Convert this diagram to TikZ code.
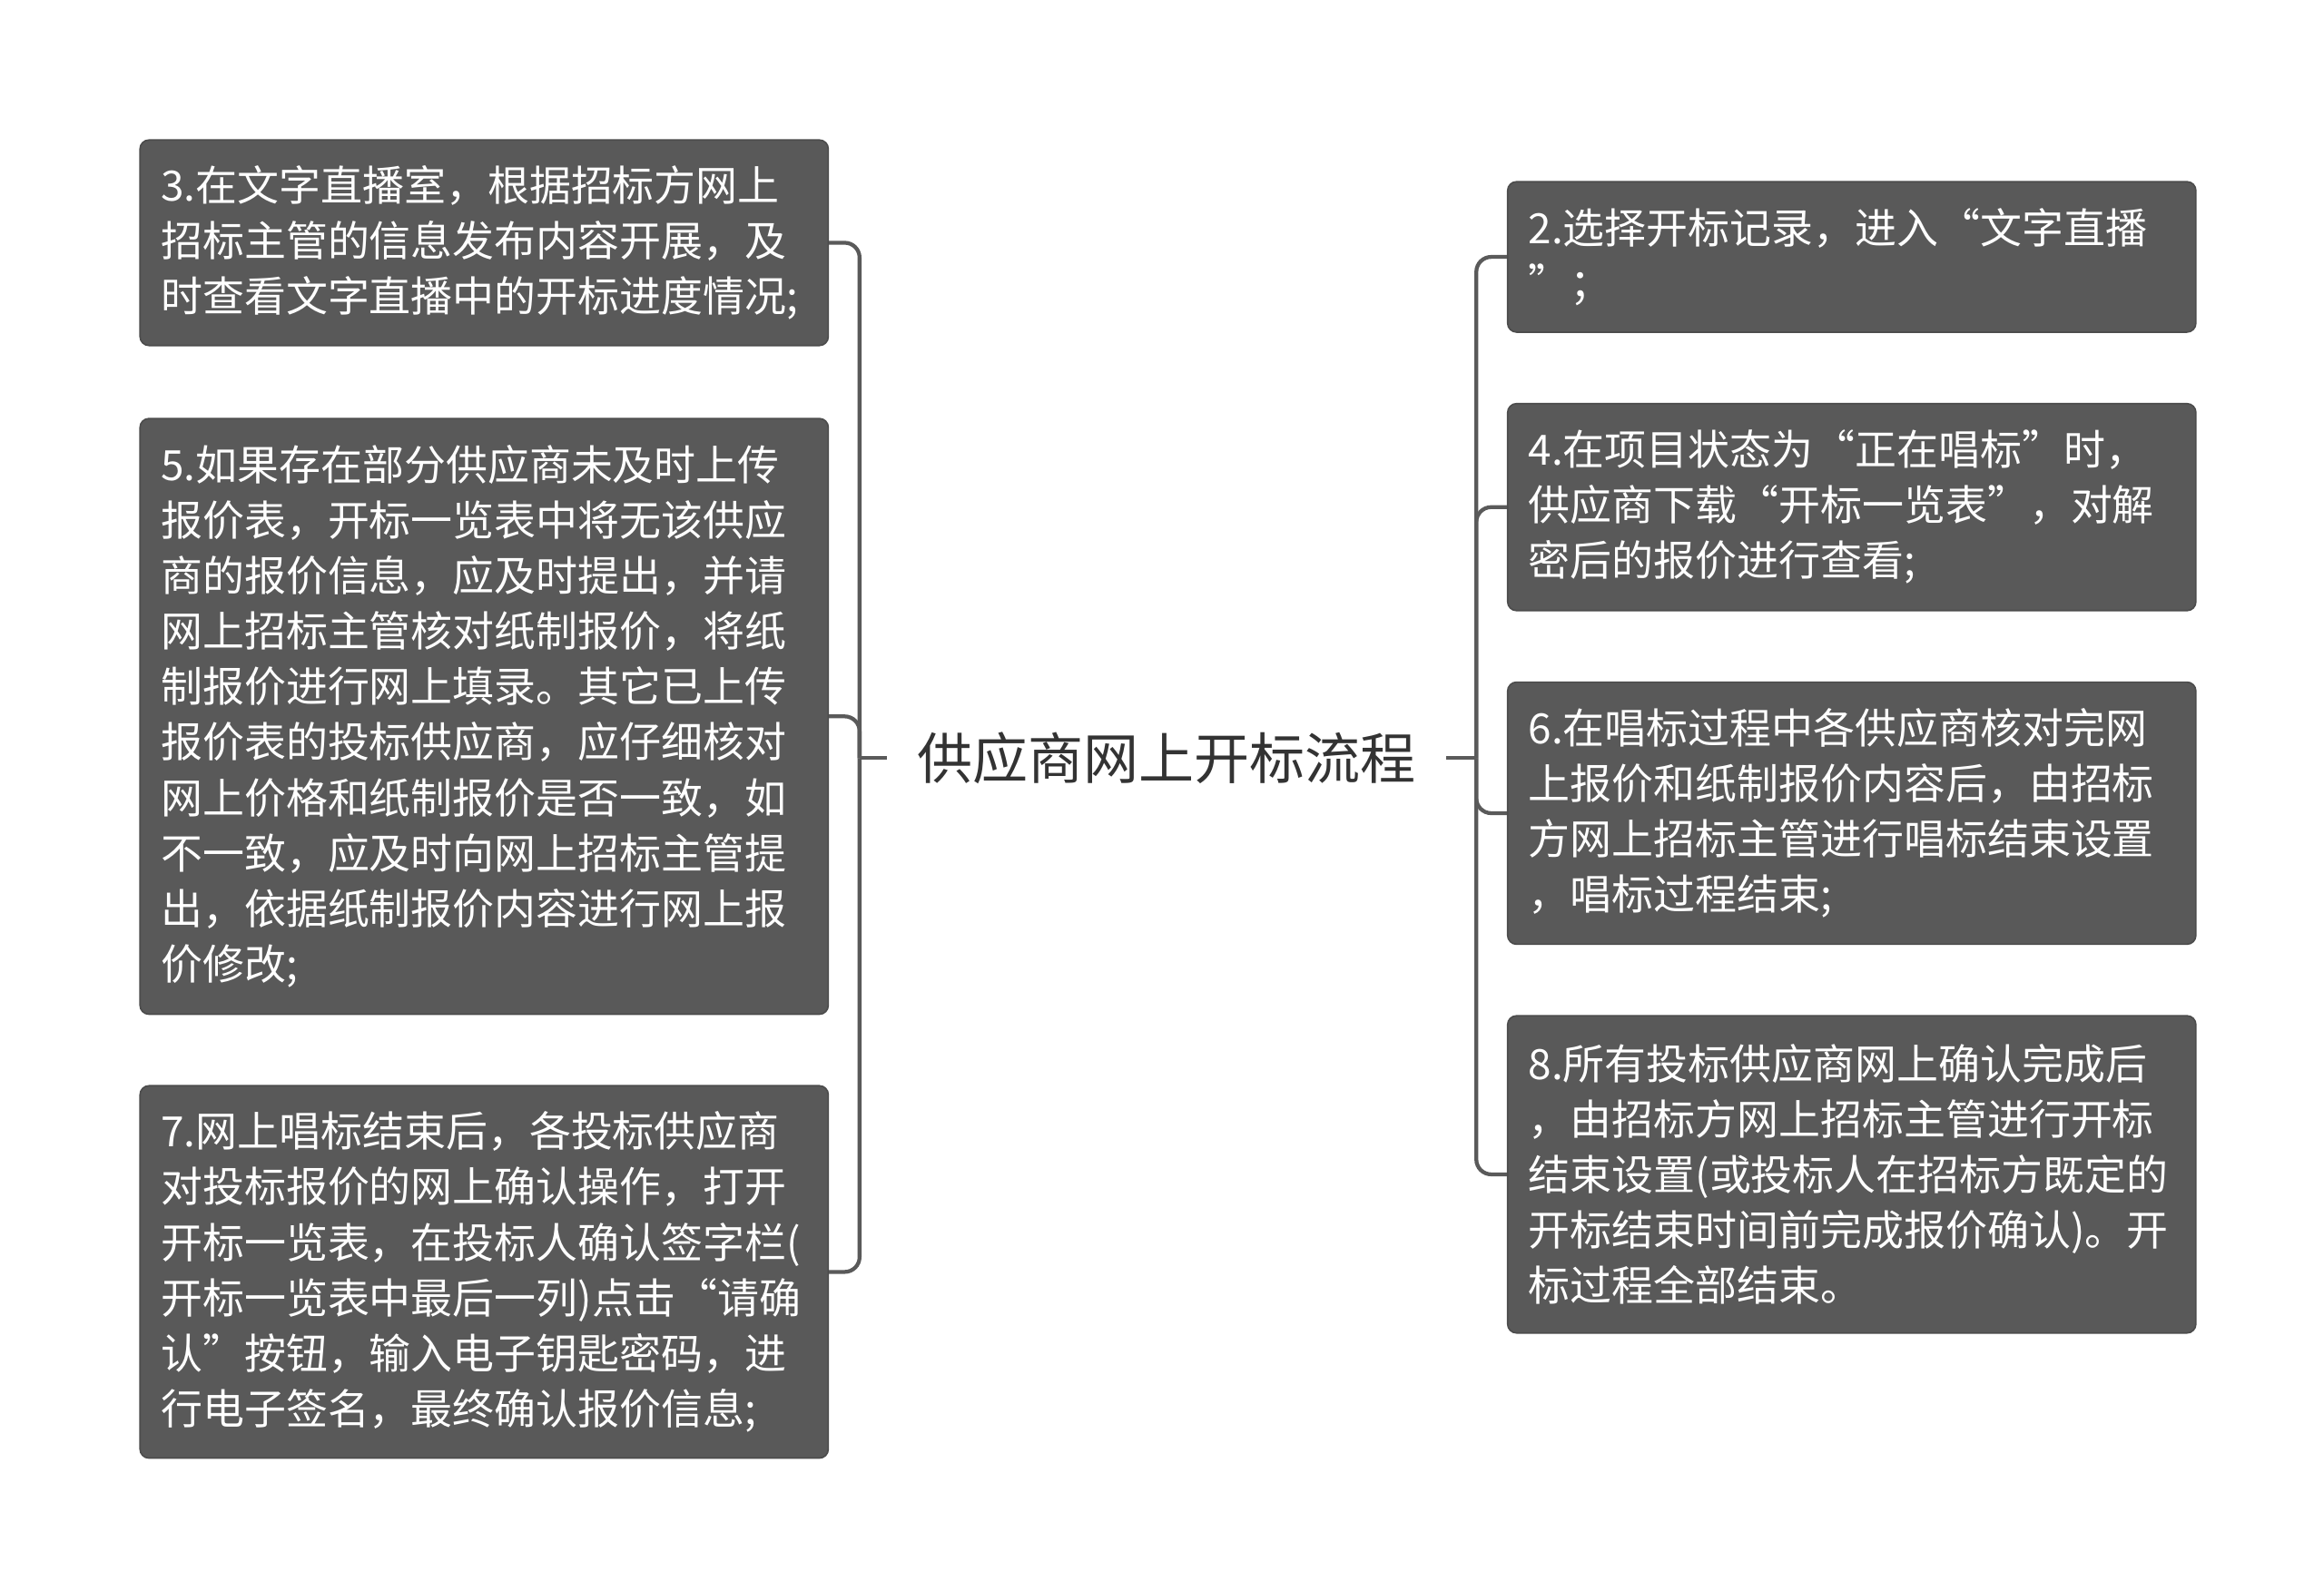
\documentclass[tikz,border=0pt]{standalone}
\usepackage{fontspec}
\setmainfont{Noto Sans CJK SC}
\definecolor{boxgray}{HTML}{595959}
\definecolor{linegray}{HTML}{5A5A5A}
\definecolor{titlegray}{HTML}{333333}
\tikzset{
  stepbox/.style={draw=boxgray!85!black, line width=0.5pt, fill=boxgray, rounded corners=3pt,
    text=white, text width=217pt, inner xsep=7pt, inner ysep=2pt, align=left,
    font=\fontsize{14pt}{18.6pt}\selectfont},
  root/.style={text=titlegray, inner xsep=10pt, font=\fontsize{18.6pt}{22pt}\selectfont},
  link/.style={draw=linegray, line width=1.3pt, rounded corners=5pt}
}
\begin{document}
\begin{tikzpicture}[x=0.5pt,y=-0.5pt]
        \useasboundingbox[fill=white] (0,0) rectangle (1560,1068);

        \node[root] (root) at (783,509) {供应商网上开标流程};

        % left side
        \node[stepbox, minimum height=69pt] (s3) at (325,163) {3.在文字直播室，根据招标方网上\\招标主管的信息发布内容开展，及\\时查看文字直播中的开标进度情况;};
        \node[stepbox, minimum height=200pt] (s5) at (325,481) {5.如果存在部分供应商未及时上传\\报价表，开标一览表中将无该供应\\商的报价信息，应及时提出，并请\\网上招标主管核对纸制报价，将纸\\制报价进行网上填录。其它已上传\\报价表的投标供应商，应仔细核对\\网上价格和纸制报价是否一致，如\\不一致，应及时向网上招标主管提\\出，依据纸制报价内容进行网上报\\价修改;};
        \node[stepbox, minimum height=125pt] (s7) at (325,854) {7.网上唱标结束后，各投标供应商\\对投标报价的网上确认操作，打开\\开标一览表，在投标人确认签字栏(\\开标一览表中最后一列)点击“请确\\认”按钮，输入电子钥匙密码，进\\行电子签名，最终确认报价信息;};

        % right side
        \node[stepbox, minimum height=50.5pt] (s2) at (1243,172.5) {2.选择开标记录，进入“文字直播\\”；};
        \node[stepbox, minimum height=69.5pt] (s4) at (1243,340.5) {4.在项目状态为“正在唱标”时，\\供应商下载“开标一览表”，对解\\密后的报价进行查看;};
        \node[stepbox, minimum height=88pt] (s6) at (1243,546) {6.在唱标过程中各供应商核对完网\\上报价和纸制报价内容后，由招标\\方网上招标主管进行唱标结束设置\\，唱标过程结束;};
        \node[stepbox, minimum height=106.5pt] (s8) at (1243,788.5) {8.所有投标供应商网上确认完成后\\，由招标方网上招标主管进行开标\\结束设置(或投标人在招标方既定的\\开标结束时间前完成报价确认)。开\\标过程全部结束。};

        \coordinate (lj) at (577,509);
        \coordinate (rj) at (991,509);

        \path[link] (root.west) -- (lj);
        \foreach \n in {s3,s5,s7}
            \path[link] (lj) |- (\n.east);

        \path[link] (root.east) -- (rj);
        \foreach \n in {s2,s4,s6,s8}
            \path[link] (rj) |- (\n.west);
    \end{tikzpicture}
\end{document}
